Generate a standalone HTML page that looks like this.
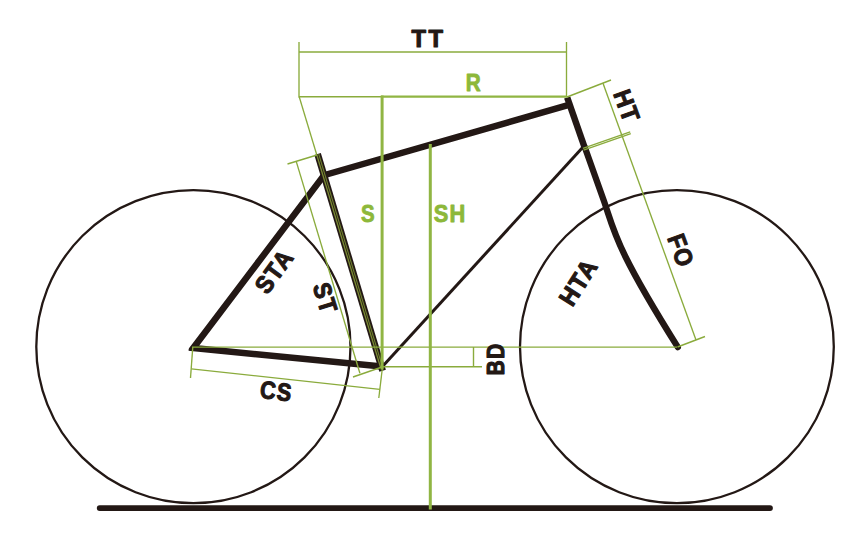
<!DOCTYPE html>
<html><head><meta charset="utf-8"><title>Geometry</title>
<style>
html,body{margin:0;padding:0;background:#fff;}
svg{display:block;}
text{font-family:"Liberation Sans","DejaVu Sans",sans-serif;font-weight:bold;}
</style></head>
<body>
<svg width="868" height="535" viewBox="0 0 868 535">
<defs><clipPath id="cl"><rect x="188.6" y="90" width="400" height="300"/></clipPath></defs>
<rect width="868" height="535" fill="#fff"/>
<g fill="none" stroke="#231815" stroke-linecap="butt">
  <!-- wheels -->
  <ellipse cx="193.4" cy="346.7" rx="157.1" ry="156.5" stroke-width="2.3"/>
  <ellipse cx="676.9" cy="346.7" rx="156.9" ry="156.5" stroke-width="2.3"/>
  <!-- down tube -->
  <line x1="382" y1="367" x2="583.5" y2="146.5" stroke-width="3"/>
  <!-- chain stay, seat stay, top tube -->
  <path d="M382,366.5 L193.3,348 L324,175.2 L568,105.1" stroke-width="6.5" stroke-linejoin="miter" stroke-miterlimit="10" clip-path="url(#cl)"/>
  <!-- seat tube -->
  <line x1="317.6" y1="154" x2="382.6" y2="370.7" stroke-width="6.8"/>
  <!-- head tube -->
  <line x1="567.2" y1="97.5" x2="585" y2="148.5" stroke-width="6.5"/>
  <!-- fork -->
  <path d="M584.9,147.5 L603.6,200 C614.5,230.8 613.4,244.4 677.8,347.2" stroke-width="6.3" stroke-linecap="round"/>
  <!-- ground -->
  <line x1="99.7" y1="508.1" x2="770" y2="508.1" stroke-width="5.8" stroke-linecap="round"/>
</g>
<g fill="none" stroke="#8aab3c" stroke-width="1.35">
  <!-- TT -->
  <line x1="299" y1="42" x2="299" y2="97.4"/>
  <line x1="566.5" y1="42" x2="566.5" y2="97"/>
  <line x1="299" y1="52" x2="566.5" y2="52"/>
  <line x1="299" y1="96.7" x2="382" y2="96.7"/>
  <!-- seat tube extension line -->
  <line x1="299.2" y1="96.7" x2="316.6" y2="154.3" stroke-width="1.3"/>
  <line x1="316.6" y1="154.3" x2="380.6" y2="367.5" stroke-width="1.3" stroke="#7b8c33"/>
  <line x1="318.7" y1="154" x2="382.6" y2="367.5" stroke-width="1.1" stroke="#6f7f2e"/>
  <!-- ST dim -->
  <line x1="287.5" y1="164" x2="317" y2="155"/>
  <line x1="296.3" y1="161.6" x2="359.9" y2="373.2"/>
  <line x1="353" y1="377" x2="382" y2="367"/>
  <!-- axle line -->
  <line x1="192" y1="347.1" x2="677" y2="347.1" stroke-width="1.4"/>
  <!-- BB line -->
  <line x1="382" y1="366.8" x2="482" y2="366.8" stroke-width="1.4"/>
  <line x1="473.5" y1="347" x2="473.5" y2="367" stroke-width="1.4"/>
  <!-- CS dim -->
  <line x1="192.8" y1="347" x2="190.5" y2="378"/>
  <line x1="382.5" y1="367" x2="378.8" y2="398"/>
  <line x1="191.3" y1="368.8" x2="379.8" y2="389.4"/>
  <!-- HT / FO dim -->
  <line x1="567" y1="97" x2="611" y2="80"/>
  <line x1="603" y1="83.3" x2="696" y2="340"/>
  <line x1="583" y1="148.3" x2="630.2" y2="131.9" stroke-width="1.4"/>
  <line x1="583.6" y1="150.1" x2="630.8" y2="133.7" stroke-width="1.4"/>
  <line x1="677.5" y1="347" x2="705" y2="336.5"/>
</g>
<g fill="none" stroke="#90b543">
  <!-- R -->
  <line x1="381" y1="96.6" x2="567" y2="96.6" stroke-width="2.3"/>
  <!-- S -->
  <line x1="382.1" y1="95.5" x2="382.1" y2="369.5" stroke-width="3"/>
  <!-- SH -->
  <line x1="430.3" y1="144" x2="430.3" y2="509.5" stroke-width="3"/>
</g>
<g fill="#231815" stroke="#231815" stroke-width="1.1" stroke-linejoin="round" font-size="24.7" letter-spacing="1.4">
  <text x="428.6" y="46.7" text-anchor="middle" textLength="34" letter-spacing="2.6" lengthAdjust="spacingAndGlyphs">TT</text>
  <text transform="translate(626.7,105.7) rotate(70)" text-anchor="middle" textLength="33.5" lengthAdjust="spacingAndGlyphs" x="0.5" y="8.7">HT</text>
  <text transform="translate(680.8,250.2) rotate(70)" text-anchor="middle" textLength="34" lengthAdjust="spacingAndGlyphs" x="0.5" y="8.7">FO</text>
  <text transform="translate(578.0,282.4) rotate(-57.5)" text-anchor="middle" textLength="50" lengthAdjust="spacingAndGlyphs" x="0.5" y="8.7">HTA</text>
  <text transform="translate(273.8,271.5) rotate(-54)" text-anchor="middle" textLength="47.5" lengthAdjust="spacingAndGlyphs" x="0.5" y="8.7">STA</text>
  <text transform="translate(325.3,297.7) rotate(72.5)" text-anchor="middle" textLength="31" lengthAdjust="spacingAndGlyphs" x="0.5" y="8.7">ST</text>
  <text transform="translate(275.9,390.9) rotate(6.5)" text-anchor="middle" textLength="32.6" lengthAdjust="spacingAndGlyphs" x="0.6" y="8.7">CS</text>
  <text transform="translate(495.2,359.5) rotate(-90)" text-anchor="middle" textLength="33" lengthAdjust="spacingAndGlyphs" x="0.5" y="8.9">BD</text>
</g>
<g fill="#8db83a" stroke="#8db83a" stroke-width="0.9" stroke-linejoin="round" font-size="24.3" letter-spacing="1.2">
  <text x="473.8" y="91.3" text-anchor="middle" textLength="16" lengthAdjust="spacingAndGlyphs">R</text>
  <text x="368.2" y="221.8" text-anchor="middle" textLength="14.6" lengthAdjust="spacingAndGlyphs">S</text>
  <text x="450" y="221.8" text-anchor="middle" textLength="32.5" lengthAdjust="spacingAndGlyphs">SH</text>
</g>
</svg>
</body></html>
